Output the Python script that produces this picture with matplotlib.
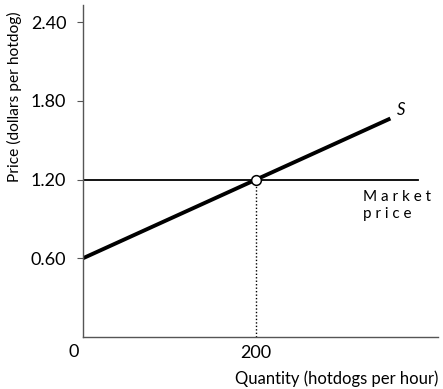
import matplotlib.pyplot as plt
import numpy as np

# data
supply_q = [0, 355]
supply_p = [0.60, 1.665]
market_q = [0, 387]
market_price = 1.20
eq_q = 200
eq_p = 1.20
yticks = [0.60, 1.20, 1.80, 2.40]
ytick_labels = ["0.60", "1.20", "1.80", "2.40"]

plt.rcParams["font.family"] = ["Lato", "DejaVu Sans"]

fig = plt.figure(figsize=(4.43, 3.89), dpi=100)
ax = fig.add_axes([83 / 443, 52 / 389, 355 / 443, 332 / 389])

ax.plot(market_q, [market_price, market_price], color="black", lw=1.3)
ax.plot(supply_q, supply_p, color="black", lw=2.8, solid_capstyle="butt")
ax.plot([eq_q, eq_q], [0, eq_p], color="black", lw=1, linestyle=(0, (1, 1.5)))
ax.plot(eq_q, eq_p, "o", ms=7, mfc="white", mec="black", mew=1.1, zorder=5)

ax.text(362, 1.73, "S", fontsize=12, style="italic", va="center")
ax.text(323, 1.0, "M a r k e t\np r i c e", fontsize=11, va="center",
        linespacing=1.25)

ax.set_xlim(0, 410)
ax.set_ylim(0, 2.53)
ax.set_yticks(yticks)
ax.set_yticklabels(ytick_labels, fontsize=13)
ax.set_xticks([eq_q])
ax.set_xticklabels(["200"], fontsize=13)
ax.tick_params(axis="y", length=4, width=0.8, pad=8, color="#555555")
ax.tick_params(axis="x", length=0, pad=6)

for s in ["top", "right"]:
    ax.spines[s].set_visible(False)
for s in ["left", "bottom"]:
    ax.spines[s].set_color("#555555")
    ax.spines[s].set_linewidth(1)

fig.text(74 / 443, 1 - 352 / 389, "0", fontsize=13, ha="center", va="center")
fig.text(438 / 443, 1 - 379 / 389, "Quantity (hotdogs per hour)", fontsize=12,
         ha="right", va="center")
fig.text(14 / 443, 1 - 97 / 389, "Price (dollars per hotdog)", fontsize=11.2,
         rotation=90, ha="center", va="center")

fig.savefig("out.png", dpi=100)
